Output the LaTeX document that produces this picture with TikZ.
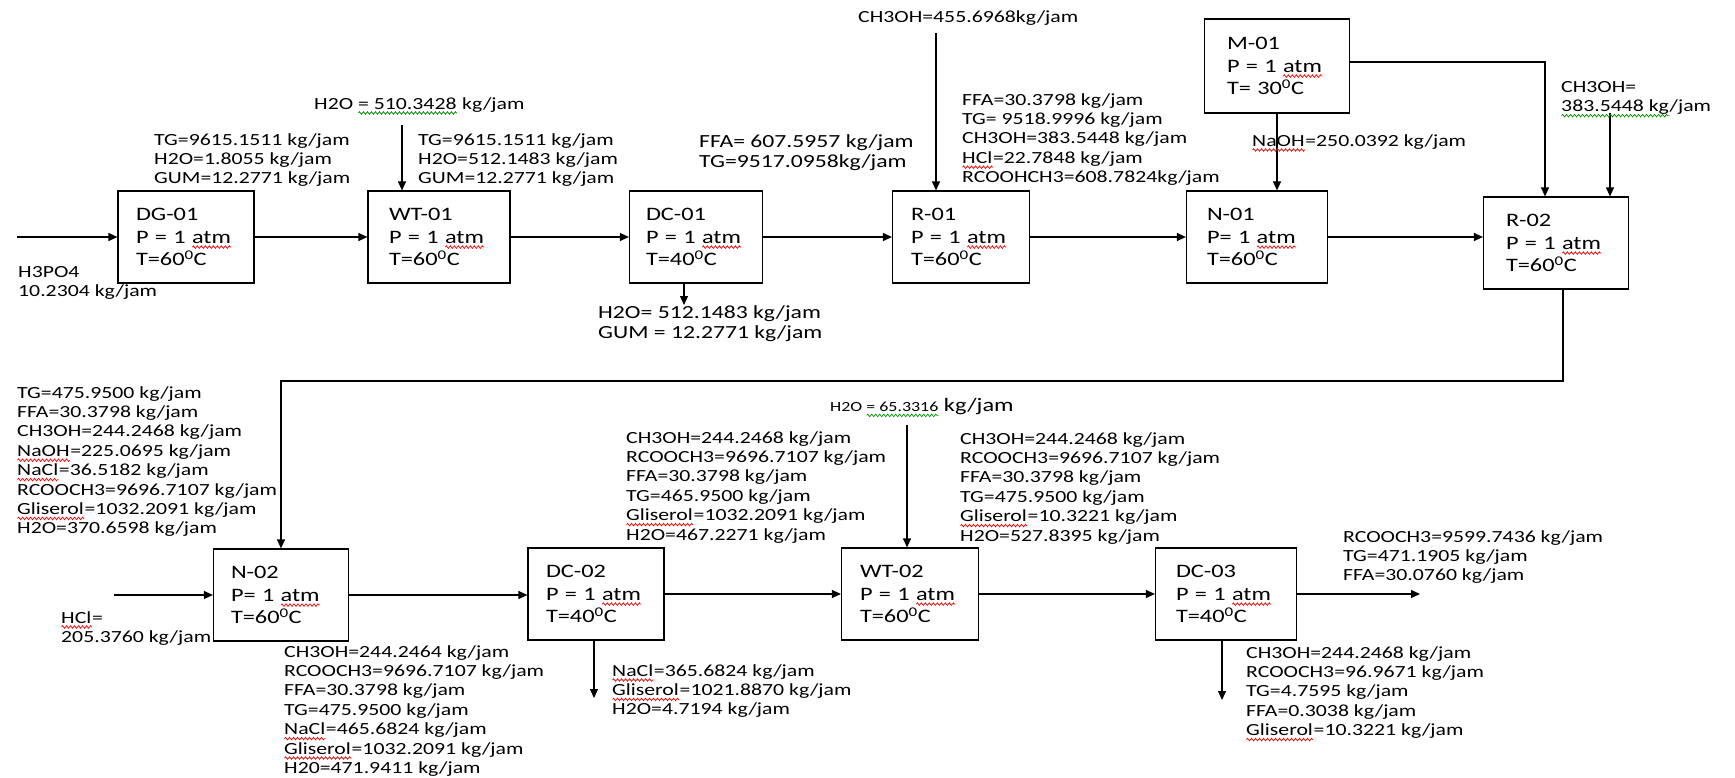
\documentclass[tikz,border=0pt]{standalone}
\usepackage{fontspec}
\setmainfont{Carlito}[FakeStretch=1.28]
\usetikzlibrary{arrows.meta, decorations.pathmorphing}
\newsavebox\wavebox
\newlength\wavewd
\newcommand\wavy[2]{\sbox\wavebox{#2}\setlength\wavewd{\wd\wavebox}%
   \leavevmode\rlap{\usebox\wavebox}\tikz[baseline=0pt]{\draw[#1, line width=0.7pt, decorate,
      decoration={zigzag, amplitude=1.3pt, segment length=4pt}] (0pt,-4pt) -- (\wavewd,-4pt);}}
\newcommand\redwave[1]{\wavy{red}{#1}}
\newcommand\greenwave[1]{\wavy{green!55!black}{#1}}
\newcommand\tagfont{\fontsize{17}{19.4}\selectfont}
\newcommand\midfont{\fontsize{18.5}{20.5}\selectfont}
\newcommand\boxfont{\fontsize{19}{22.5}\selectfont}
\newcommand\zs{\textsuperscript{0}}

\begin{document}
\begin{tikzpicture}[x=1pt, y=-1pt,
   unitbox/.style={draw, line width=1.2pt, minimum width=138pt, minimum height=92pt,
      text width=100pt, inner xsep=0pt, align=left, font=\boxfont},
   lbl/.style={anchor=north west, inner sep=0pt, align=left, font=\tagfont},
   flow/.style={line width=1.2pt, -{Triangle[length=9pt,width=8pt]}}]
   \fill[white] (0,0) rectangle (1735,778);
   \useasboundingbox (0,0) rectangle (1735,778);

   % Top row
   \node[unitbox, minimum width=136pt] (dg) at (186,237) {DG-01\\P = 1 \redwave{atm}\\T=60\zs C};
   \node[unitbox, minimum width=142pt] (wt1) at (439,237) {WT-01\\P = 1 \redwave{atm}\\T=60\zs C};
   \node[unitbox, minimum width=133pt] (dc1) at (696,237) {DC-01\\P = 1 \redwave{atm}\\T=40\zs C};
   \node[unitbox, minimum width=137pt] (r1) at (961,237) {R-01\\P = 1 \redwave{atm}\\T=60\zs C};
   \node[unitbox, minimum width=141pt] (n1) at (1257,237) {N-01\\P= 1 \redwave{atm}\\T=60\zs C};
   \node[unitbox, minimum width=145pt] (r2) at (1556,243) {R-02\\P = 1 \redwave{atm}\\T=60\zs C};
   \node[unitbox, minimum width=145pt, minimum height=94pt] (m1) at (1277,66) {M-01\\P = 1 \redwave{atm}\\T= 30\zs C};

   % Bottom row
   \node[unitbox, minimum width=135pt] (n2) at (281,595) {N-02\\P= 1 \redwave{atm}\\T=60\zs C};
   \node[unitbox, minimum width=136pt] (dc2) at (596,594) {DC-02\\P = 1 \redwave{atm}\\T=40\zs C};
   \node[unitbox, minimum width=137pt] (wt2) at (910,594) {WT-02\\P = 1 \redwave{atm}\\T=60\zs C};
   \node[unitbox, minimum width=141pt] (dc3) at (1226,594) {DC-03\\P = 1 \redwave{atm}\\T=40\zs C};

   % Main streams
   \foreach \a/\b in {dg/wt1, wt1/dc1, dc1/r1, r1/n1, n1/r2, n2/dc2, dc2/wt2, wt2/dc3}
      \draw[flow] (\a.east) -- (\a.east -| \b.west);

   \coordinate (h3in) at (17,237);
   \draw[flow] (h3in) -- (h3in -| dg.west);
   \coordinate (w1in) at (402,125);
   \draw[flow] (w1in) -- (w1in |- wt1.north);
   \coordinate (gumout) at (684,305);
   \draw[flow] (gumout |- dc1.south) -- (gumout);
   \coordinate (m1in) at (936,33);
   \draw[flow] (m1in) -- (m1in |- r1.north);
   \draw[flow] (m1.south) -- (m1.south |- n1.north);
   \coordinate (mtap) at (1545,62);
   \draw[flow] (m1.east |- mtap) -- (mtap) -- (mtap |- r2.north);
   \coordinate (m2in) at (1610,113);
   \draw[flow] (m2in) -- (m2in |- r2.north);
   \coordinate (recyc) at (1563,381);
   \draw[flow] (recyc |- r2.south) -- (recyc) -| (n2.north);
   \coordinate (hclin) at (114,595);
   \draw[flow] (hclin) -- (hclin -| n2.west);
   \coordinate (saltout) at (594,698);
   \draw[flow] (saltout |- dc2.south) -- (saltout);
   \coordinate (w2in) at (907,425);
   \draw[flow] (w2in) -- (w2in |- wt2.north);
   \coordinate (prod) at (1420,594);
   \draw[flow] (dc3.east) -- (prod);
   \coordinate (wasteout) at (1222,700);
   \draw[flow] (wasteout |- dc3.south) -- (wasteout);

   % Stream labels, top
   \node[lbl] (tH3) at (18,266) {H3PO4\\10.2304 kg/jam};
   \node[lbl] (tDG) at (154,133) {TG=9615.1511 kg/jam\\H2O=1.8055 kg/jam\\GUM=12.2771 kg/jam};
   \node[lbl] (tW1) at (314,97) {H2O \greenwave{= 510.3428} kg/jam};
   \node[lbl] (tWT1) at (418,133) {TG=9615.1511 kg/jam\\H2O=512.1483 kg/jam\\GUM=12.2771 kg/jam};
   \node[lbl, font=\midfont] (tDC1) at (699,134) {FFA= 607.5957 kg/jam\\TG=9517.0958kg/jam};
   \node[lbl, font=\midfont] (tGum) at (598,305) {H2O= 512.1483 kg/jam\\GUM = 12.2771 kg/jam};
   \node[lbl] (tM1) at (858,10) {CH3OH=455.6968kg/jam};
   \node[lbl] (tR1) at (962,93) {FFA=30.3798 kg/jam\\TG= 9518.9996 kg/jam\\CH3OH=383.5448 kg/jam\\\redwave{HCl}=22.7848 kg/jam\\RCOOHCH3=608.7824kg/jam};
   \node[lbl] (tNaOH) at (1252,134) {\redwave{NaOH}=250.0392 kg/jam};
   \node[lbl] (tM2) at (1561,81) {CH3OH=\\\greenwave{383.5448 kg}/jam};

   % Stream labels, bottom
   \node[lbl] (tN2) at (17,386) {TG=475.9500 kg/jam\\FFA=30.3798 kg/jam\\CH3OH=244.2468 kg/jam\\\redwave{NaOH}=225.0695 kg/jam\\\redwave{NaCl}=36.5182 kg/jam\\RCOOCH3=9696.7107 kg/jam\\\redwave{Gliserol}=1032.2091 kg/jam\\H2O=370.6598 kg/jam};
   \node[lbl] (tHCl) at (61,611) {\redwave{HCl}=\\205.3760 kg/jam};
   \node[lbl] (tN2out) at (284,645) {CH3OH=244.2464 kg/jam\\RCOOCH3=9696.7107 kg/jam\\FFA=30.3798 kg/jam\\TG=475.9500 kg/jam\\\redwave{NaCl}=465.6824 kg/jam\\\redwave{Gliserol}=1032.2091 kg/jam\\H20=471.9411 kg/jam};
   \node[lbl] (tDC2) at (626,431) {CH3OH=244.2468 kg/jam\\RCOOCH3=9696.7107 kg/jam\\FFA=30.3798 kg/jam\\TG=465.9500 kg/jam\\\redwave{Gliserol}=1032.2091 kg/jam\\H2O=467.2271 kg/jam};
   \node[lbl] (tSalt) at (612,664) {\redwave{NaCl}=365.6824 kg/jam\\\redwave{Gliserol}=1021.8870 kg/jam\\H2O=4.7194 kg/jam};
   \node[lbl] (tW2) at (830,398) {{\fontsize{14}{16}\selectfont H2O \greenwave{= 65.3316}} {\boxfont kg/jam}};
   \node[lbl] (tWT2) at (960,432) {CH3OH=244.2468 kg/jam\\RCOOCH3=9696.7107 kg/jam\\FFA=30.3798 kg/jam\\TG=475.9500 kg/jam\\\redwave{Gliserol}=10.3221 kg/jam\\H2O=527.8395 kg/jam};
   \node[lbl] (tProd) at (1343,530) {RCOOCH3=9599.7436 kg/jam\\TG=471.1905 kg/jam\\FFA=30.0760 kg/jam};
   \node[lbl] (tWaste) at (1246,646) {CH3OH=244.2468 kg/jam\\RCOOCH3=96.9671 kg/jam\\TG=4.7595 kg/jam\\FFA=0.3038 kg/jam\\\redwave{Gliserol}=10.3221 kg/jam};
\end{tikzpicture}
\end{document}
